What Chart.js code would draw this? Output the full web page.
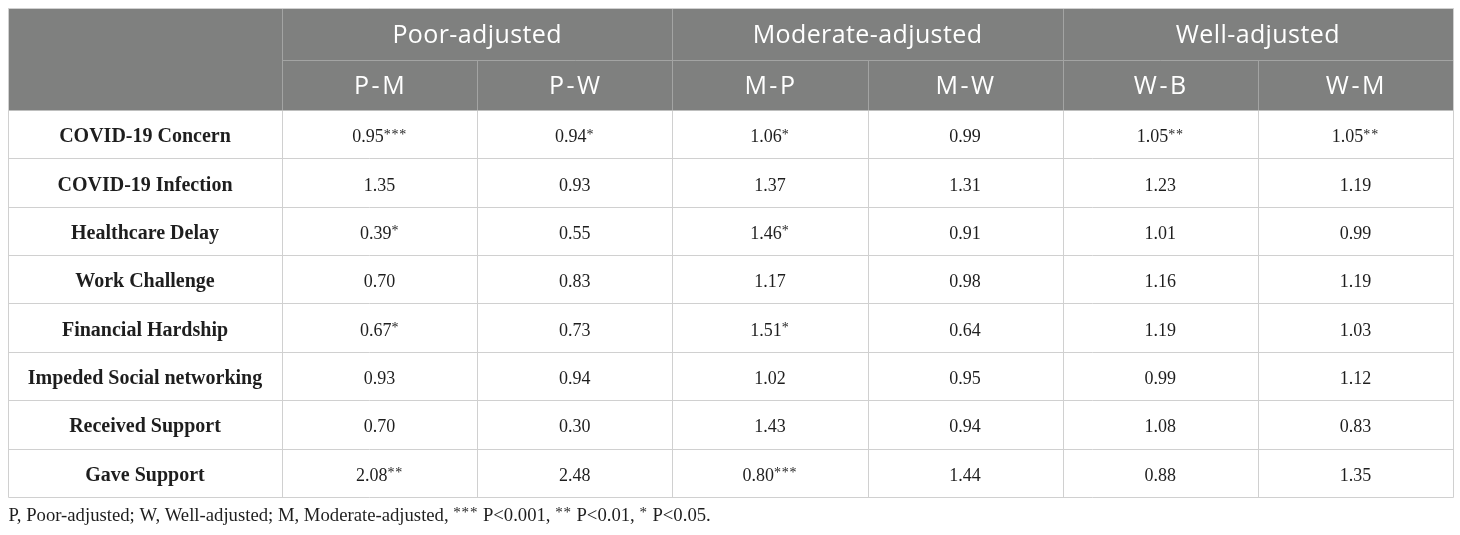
<!DOCTYPE html>
<html>
<head>
<meta charset="utf-8">
<script src="https://cdn.jsdelivr.net/npm/chart.js@4"></script>
<style>
  html, body { margin: 0; padding: 0; background: #fff; }
  #wrap { width: 1460px; height: 535px; }
</style>
</head>
<body>
<div id="wrap"><canvas id="tbl" width="1460" height="535"></canvas></div>
<script>
// table content
var groupLabels = ['Poor-adjusted', 'Moderate-adjusted', 'Well-adjusted'];
var colLabels = ['P-M', 'P-W', 'M-P', 'M-W', 'W-B', 'W-M'];
var rowLabels = [
  'COVID-19 Concern',
  'COVID-19 Infection',
  'Healthcare Delay',
  'Work Challenge',
  'Financial Hardship',
  'Impeded Social networking',
  'Received Support',
  'Gave Support'
];

var valuesPM = [0.95, 1.35, 0.39, 0.70, 0.67, 0.93, 0.70, 2.08];
var valuesPW = [0.94, 0.93, 0.55, 0.83, 0.73, 0.94, 0.30, 2.48];
var valuesMP = [1.06, 1.37, 1.46, 1.17, 1.51, 1.02, 1.43, 0.80];
var valuesMW = [0.99, 1.31, 0.91, 0.98, 0.64, 0.95, 0.94, 1.44];
var valuesWB = [1.05, 1.23, 1.01, 1.16, 1.19, 0.99, 1.08, 0.88];
var valuesWM = [1.05, 1.19, 0.99, 1.19, 1.03, 1.12, 0.83, 1.35];

var sigPM = ['***', '', '*', '', '*', '', '', '**'];
var sigPW = ['*', '', '', '', '', '', '', ''];
var sigMP = ['*', '', '*', '', '*', '', '', '***'];
var sigMW = ['', '', '', '', '', '', '', ''];
var sigWB = ['**', '', '', '', '', '', '', ''];
var sigWM = ['**', '', '', '', '', '', '', ''];

var footnote = [
  ['P, Poor-adjusted; W, Well-adjusted; M, Moderate-adjusted, ', '***'],
  [' P<0.001, ', '**'],
  [' P<0.01, ', '*'],
  [' P<0.05.', '']
];

var columns = [valuesPM, valuesPW, valuesMP, valuesMW, valuesWB, valuesWM];
var sigs = [sigPM, sigPW, sigMP, sigMW, sigWB, sigWM];

// layout in scale units: first column wider, header rows a bit taller
var colWidths = [1.404, 1, 1, 1, 1, 1, 1];
var rowHeights = [1.074, 1.033, 1, 1, 1, 1, 1, 1, 1, 1];

function edges(list) {
  var out = [0];
  list.forEach(function (w) { out.push(out[out.length - 1] + w); });
  return out;
}
var xEdges = edges(colWidths);
var yEdges = edges(rowHeights);

var headBg = '#7f807f';
var headLine = '#a3a4a3';
var gridLine = '#d0d0d0';
var headFont = '"Open Sans", sans-serif';
var bodyFont = '"Liberation Serif", "DejaVu Serif", serif';

function drawWithSup(ctx, parts, size, x, y, align) {
  // parts: [[normal, sup], ...]
  var supSize = Math.round(size * 0.8);
  var spacing = 'letterSpacing' in ctx;
  var w = 0;
  parts.forEach(function (p) {
    ctx.font = size + 'px ' + bodyFont;
    w += ctx.measureText(p[0]).width;
    ctx.font = supSize + 'px ' + bodyFont;
    w += ctx.measureText(p[1]).width + (spacing ? p[1].length * 0.8 : 0);
  });
  var cx = align === 'center' ? x - w / 2 : x;
  ctx.textAlign = 'left';
  ctx.textBaseline = 'alphabetic';
  parts.forEach(function (p) {
    ctx.font = size + 'px ' + bodyFont;
    ctx.fillText(p[0], cx, y);
    cx += ctx.measureText(p[0]).width;
    if (p[1]) {
      ctx.font = supSize + 'px ' + bodyFont;
      if (spacing) ctx.letterSpacing = '0.8px';
      ctx.fillText(p[1], cx, y - size * 0.2);
      cx += ctx.measureText(p[1]).width;
      if (spacing) ctx.letterSpacing = '0px';
    }
  });
}

var tablePlugin = {
  id: 'tableCells',
  afterDraw: function (chart) {
    var ctx = chart.ctx;
    var xs = chart.scales.x, ys = chart.scales.y;
    var X = function (v) { return Math.round(xs.getPixelForValue(v)) + 0.5; };
    var Y = function (v) { return Math.round(ys.getPixelForValue(v)) + 0.5; };
    var left = X(xEdges[0]), right = X(xEdges[xEdges.length - 1]);
    var top = Y(yEdges[0]), headBottom = Y(yEdges[2]), bottom = Y(yEdges[yEdges.length - 1]);

    ctx.save();
    // header background
    ctx.fillStyle = headBg;
    ctx.fillRect(left, top, right - left, headBottom - top);

    ctx.lineWidth = 1;
    // header lines
    ctx.strokeStyle = headLine;
    ctx.beginPath();
    ctx.moveTo(X(xEdges[1]), Y(yEdges[1]));
    ctx.lineTo(right, Y(yEdges[1]));
    [1, 3, 5].forEach(function (i) {
      ctx.moveTo(X(xEdges[i]), top);
      ctx.lineTo(X(xEdges[i]), headBottom);
    });
    [2, 4, 6].forEach(function (i) {
      ctx.moveTo(X(xEdges[i]), Y(yEdges[1]));
      ctx.lineTo(X(xEdges[i]), headBottom);
    });
    ctx.stroke();

    // body grid
    ctx.strokeStyle = gridLine;
    ctx.beginPath();
    ctx.moveTo(left, top); ctx.lineTo(right, top);
    for (var r = 3; r < yEdges.length; r++) {
      ctx.moveTo(left, Y(yEdges[r])); ctx.lineTo(right, Y(yEdges[r]));
    }
    for (var c = 0; c < xEdges.length; c++) {
      var t = (c === 0 || c === xEdges.length - 1) ? top : headBottom;
      ctx.moveTo(X(xEdges[c]), t); ctx.lineTo(X(xEdges[c]), bottom);
    }
    ctx.stroke();

    // header text
    ctx.fillStyle = '#ffffff';
    ctx.font = '25px ' + headFont;
    ctx.textAlign = 'center';
    ctx.textBaseline = 'alphabetic';
    if ('letterSpacing' in ctx) ctx.letterSpacing = '0.4px';
    var yMid1 = ys.getPixelForValue((yEdges[0] + yEdges[1]) / 2);
    var yMid2 = ys.getPixelForValue((yEdges[1] + yEdges[2]) / 2);
    groupLabels.forEach(function (g, i) {
      var cx = xs.getPixelForValue((xEdges[1 + 2 * i] + xEdges[3 + 2 * i]) / 2);
      ctx.fillText(g, cx, yMid1 + 9.3);
    });
    if ('letterSpacing' in ctx) ctx.letterSpacing = '2.5px';
    colLabels.forEach(function (l, i) {
      var cx = xs.getPixelForValue((xEdges[1 + i] + xEdges[2 + i]) / 2);
      ctx.fillText(l, cx + 1, yMid2 + 9.5);
    });
    if ('letterSpacing' in ctx) ctx.letterSpacing = '0px';

    // row labels and values
    ctx.fillStyle = '#1e1e1e';
    rowLabels.forEach(function (lab, r) {
      var cy = ys.getPixelForValue((yEdges[2 + r] + yEdges[3 + r]) / 2);
      ctx.font = 'bold 20px ' + bodyFont;
      ctx.textAlign = 'center';
      ctx.textBaseline = 'alphabetic';
      ctx.fillText(lab, xs.getPixelForValue((xEdges[0] + xEdges[1]) / 2), cy + 8);
      columns.forEach(function (vals, c) {
        var cx = xs.getPixelForValue((xEdges[1 + c] + xEdges[2 + c]) / 2);
        drawWithSup(ctx, [[vals[r].toFixed(2), sigs[c][r]]], 18, cx, cy + 8, 'center');
      });
    });

    // footnote
    drawWithSup(ctx, footnote, 18.7, left, bottom + 23, 'left');
    ctx.restore();
  }
};

new Chart(document.getElementById('tbl'), {
  type: 'scatter',
  data: { datasets: [{ data: [], pointRadius: 0 }] },
  options: {
    responsive: false,
    devicePixelRatio: 1,
    animation: false,
    layout: { padding: { left: 8, top: 8, right: 7, bottom: 38 } },
    plugins: { legend: { display: false }, tooltip: { enabled: false } },
    scales: {
      x: { type: 'linear', display: false, min: xEdges[0], max: xEdges[xEdges.length - 1] },
      y: { type: 'linear', display: false, reverse: true, min: yEdges[0], max: yEdges[yEdges.length - 1] }
    }
  },
  plugins: [tablePlugin]
});
</script>
</body>
</html>
